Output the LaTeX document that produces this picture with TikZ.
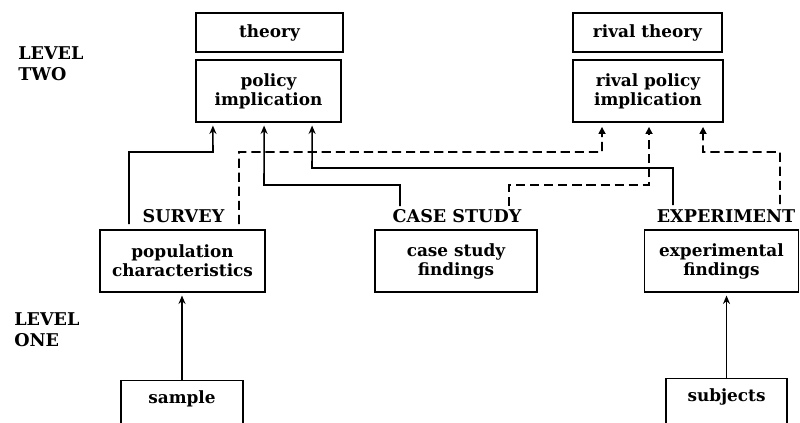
\documentclass[tikz,border=0pt]{standalone}
\usepackage{fontspec}
\setmainfont{DejaVu Serif}
\usetikzlibrary{arrows.meta}

\tikzset{
  box/.style={shape=rectangle,draw=black,line width=1pt,align=center,inner sep=0pt,
    font=\bfseries\fontsize{12}{13.5}\selectfont},
  cutbox/.style={box,anchor=north,inner ysep=7pt,text height=9pt,text depth=1.3cm},
  method/.style={inner sep=0pt,font=\bfseries\fontsize{12.5}{14}\selectfont},
  level/.style={anchor=west,align=left,inner sep=0pt,font=\bfseries\fontsize{12.5}{15}\selectfont},
  link/.style={-{Stealth[length=6pt,width=5pt]},line width=1.1pt,shorten >=2pt},
  rival/.style={-{Triangle[length=5pt,width=5pt]},line width=1.1pt,shorten >=3pt,dash pattern=on 6.5pt off 3.5pt}
}

\begin{document}
\begin{tikzpicture}[x=0.025cm,y=-0.025cm]
    \clip (0,0) rectangle (800,422);
    % level two
    \node[level](lvtwo) at (18,64) {LEVEL\\TWO};
    \node[box,minimum width=3.675cm,minimum height=0.975cm](theory) at (269.5,32.5) {theory};
    \node[box,minimum width=3.625cm,minimum height=1.55cm](policy) at (268.5,91) {policy\\implication};
    \node[box,minimum width=3.725cm,minimum height=0.975cm](rtheory) at (647.5,32.5) {rival theory};
    \node[box,minimum width=3.75cm,minimum height=1.55cm](rpolicy) at (648,91) {rival policy\\implication};
    % methods
    \node[method](survey) at (183.5,216) {SURVEY};
    \node[method](casestudy) at (457,216) {CASE STUDY};
    \node[method](experiment) at (726,216) {EXPERIMENT};
    % level one
    \node[box,minimum width=4.125cm,minimum height=1.55cm](popchar) at (182.5,261) {population\\characteristics};
    \node[box,minimum width=4.05cm,minimum height=1.55cm](casefind) at (456,261) {case study\\findings};
    \node[box,minimum width=3.86cm,minimum height=1.55cm](expfind) at (721.5,261) {experimental\\findings};
    \node[level](lvone) at (14,330) {LEVEL\\ONE};
    \node[cutbox,minimum width=3.05cm](sample) at (182,380) {sample};
    \node[cutbox,minimum width=3.025cm](subjects) at (726.5,378) {subjects};
    % line ends beside the method names
    \coordinate (sv1) at (129,224);
    \coordinate (sv2) at (239,224);
    \coordinate (cs1) at (400,206);
    \coordinate (cs2) at (509,206);
    \coordinate (ex1) at (673,205);
    \coordinate (ex2) at (780,204);
    % links
    \draw[link] (sv1) |- (213,152) -- ([xshift=-1.39cm]policy.south);
    \draw[rival] (sv2) |- (602,152) -- ([xshift=-1.15cm]rpolicy.south);
    \draw[link] (cs1) |- (264,185) -- ([xshift=-0.11cm]policy.south);
    \draw[rival] (cs2) |- (649,185) -- ([xshift=0.025cm]rpolicy.south);
    \draw[link] (ex1) |- (312,168) -- ([xshift=1.09cm]policy.south);
    \draw[rival] (ex2) |- (703,152) -- ([xshift=1.375cm]rpolicy.south);
    \draw[link] (sample.north) -- (sample.north |- popchar.south);
    \draw[link] (subjects.north) -- (subjects.north |- expfind.south);
\end{tikzpicture}
\end{document}
